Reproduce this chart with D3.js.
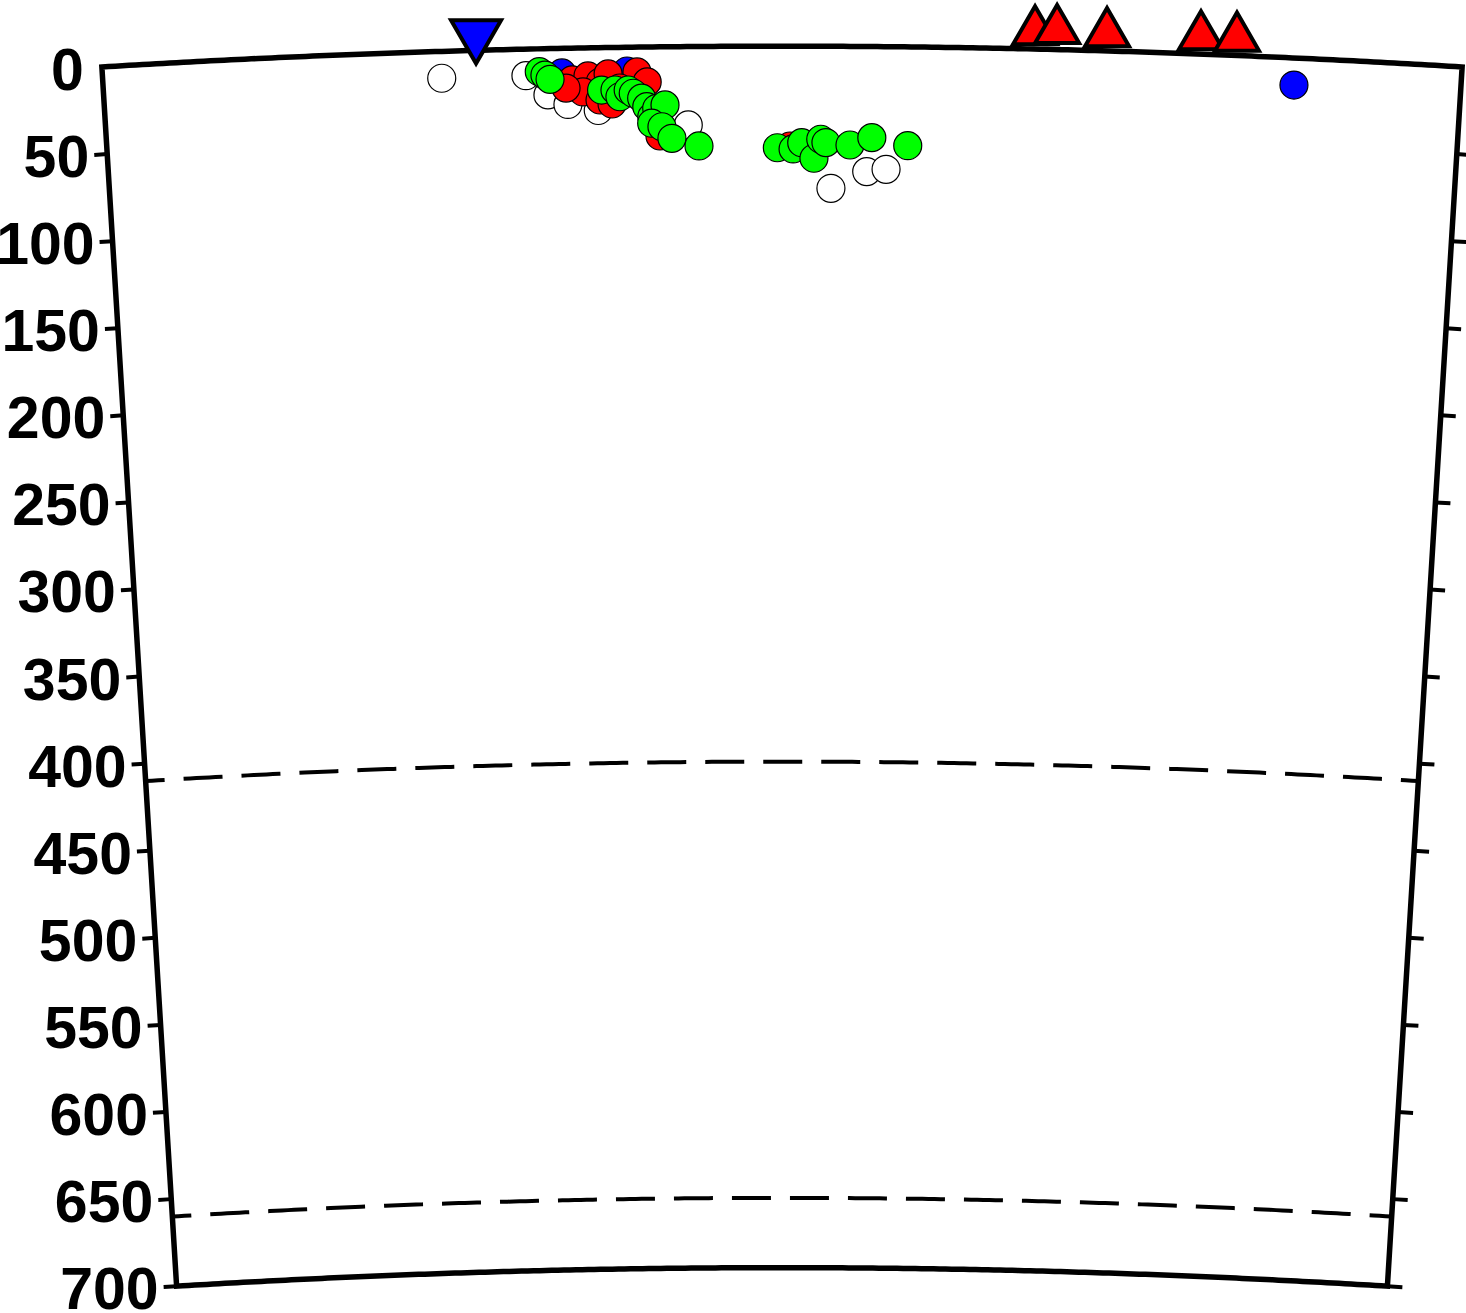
<!DOCTYPE html>
<html><head><meta charset="utf-8">
<script src="https://cdn.jsdelivr.net/npm/d3@7"></script>
<style>html,body{margin:0;padding:0;background:#fff}svg{display:block}</style>
</head><body>
<script>
// ---- data ----
const profileLength = 780;          // km along the section
const earthRadius = 6371;           // km
const maxDepth = 700;               // km
const depthLabels = [0,50,100,150,200,250,300,350,400,450,500,550,600,650,700];
const depthTicks = [50,100,150,200,250,300,350,400,450,500,550,600,650,700];
const discontinuities = [410, 660];

const whiteDist  = [194.5, 242.9, 255.3, 266.7, 284.1, 335.9, 418.4, 439.1, 450.3];
const whiteDepth = [15.4, 15.2, 26.5, 32.2, 36.0, 44.9, 81.4, 71.7, 70.3];

const blueDist  = [263.6, 301.0, 684.2];
const blueDepth = [14.1, 13.6, 15.5];

const redDist  = [269.4, 278.5, 285.5, 290.1, 275.5, 285.2, 292.1, 306.7, 312.5, 317.9, 319.5, 394.6, 296.7, 265.8];
const redDepth = [18.2, 16.1, 19.7, 15.1, 25.2, 30.0, 32.4, 14.2, 20.0, 41.3, 51.1, 57.2, 23.3, 22.8];

const greenDist  = [250.6, 253.8, 256.7, 286.2, 293.9, 296.7, 301.5, 304.4, 309.2, 312.1, 314.9, 317.8, 322.6, 314.8, 320.7, 326.4, 342.0,
                    387.3, 396.4, 401.4, 408.5, 412.4, 415.4, 429.3, 441.9, 462.7];
const greenDepth = [13.1, 15.1, 17.6, 24.3, 24.4, 28.3, 24.5, 26.4, 29.3, 34.2, 40.0, 35.2, 33.3, 43.7, 45.8, 52.5, 57.0,
                    58.2, 58.9, 55.3, 64.2, 53.3, 55.2, 56.5, 52.2, 56.6];

const redStationDist  = [534.8, 547.4, 576.0, 629.8, 650.4];
const redStationDepth = [-10, -11, -10, -10, -10];
const blueStationDist  = [214.9];
const blueStationDepth = [-9];

// ---- geometry ----
const W = 1466, H = 1313;
const pxPerKm = 1.745;
const rTop = earthRadius * pxPerKm;
const halfAngle = profileLength / earthRadius / 2;
const cx = 782;
const cy = 67 + rTop * Math.cos(halfAngle);

const angle = d3.scaleLinear().domain([0, profileLength]).range([-halfAngle, halfAngle]);
const radius = d3.scaleLinear().domain([0, maxDepth]).range([rTop, rTop - maxDepth * pxPerKm]);

function pos(d, z) {
  const a = angle(d), r = radius(z);
  return [r * Math.sin(a), -r * Math.cos(a)];
}

const svg = d3.select("body").append("svg").attr("width", W).attr("height", H);
svg.append("rect").attr("width", W).attr("height", H).attr("fill", "#fff");
const g = svg.append("g").attr("transform", `translate(${cx},${cy})`);

const radial = d3.lineRadial().angle(p => angle(p[0])).radius(p => radius(p[1]));
const samples = d3.range(0, profileLength + 0.001, profileLength / 200);

// discontinuity dashed lines
discontinuities.forEach(z => {
  g.append("path")
    .attr("d", radial(samples.map(d => [d, z])))
    .attr("fill", "none").attr("stroke", "#000").attr("stroke-width", 4)
    .attr("stroke-dasharray", "39 19").attr("stroke-dashoffset", 20);
});

// frame
const framePts = []
  .concat(samples.map(d => [d, 0]))
  .concat([[profileLength, maxDepth]])
  .concat(samples.slice().reverse().map(d => [d, maxDepth]));
g.append("path")
  .attr("d", radial.curve(d3.curveLinearClosed)(framePts))
  .attr("fill", "none").attr("stroke", "#000").attr("stroke-width", 5.5)
  .attr("stroke-linejoin", "miter");
radial.curve(d3.curveLinear);

// ticks
const tickLen = 13;
depthTicks.forEach(z => {
  [0, profileLength].forEach((d, i) => {
    const a = angle(d);
    const [x, y] = pos(d, z);
    const s = i === 0 ? -1 : 1;
    const ox = s * Math.cos(a), oy = s * Math.sin(a);
    g.append("line")
      .attr("x1", x).attr("y1", y)
      .attr("x2", x + ox * (tickLen + (i ? 2 : 0))).attr("y2", y + oy * (tickLen + (i ? 2 : 0)))
      .attr("stroke", "#000").attr("stroke-width", 4);
  });
});

// labels (left side)
const fontSize = 59;
depthLabels.forEach(z => {
  const a = angle(0);
  const [x, y] = pos(0, z);
  const ox = -Math.cos(a), oy = -Math.sin(a);
  g.append("text")
    .attr("x", x + ox * 18).attr("y", y + oy * 18 + 0.37 * fontSize)
    .attr("text-anchor", "end")
    .attr("font-family", "'Liberation Sans', Arial, Helvetica, sans-serif")
    .attr("font-weight", "bold").attr("font-size", fontSize)
    .attr("fill", "#000")
    .text(z);
});

// events
function drawEvents(dists, depths, color) {
  g.append("g").selectAll("circle")
    .data(d3.range(dists.length))
    .join("circle")
    .attr("cx", i => pos(dists[i], depths[i])[0])
    .attr("cy", i => pos(dists[i], depths[i])[1])
    .attr("r", 14)
    .attr("fill", color).attr("stroke", "#000").attr("stroke-width", 1.2);
}
drawEvents(whiteDist, whiteDepth, "#ffffff");
drawEvents(blueDist, blueDepth, "#0000ff");
drawEvents(redDist, redDepth, "#ff0000");
drawEvents(greenDist, greenDepth, "#00ff00");

// stations
function drawStations(dists, depths, color, side, rot) {
  const area = Math.sqrt(3) / 4 * side * side;
  g.append("g").selectAll("path")
    .data(d3.range(dists.length))
    .join("path")
    .attr("d", d3.symbol().type(d3.symbolTriangle).size(area))
    .attr("transform", i => {
      const [x, y] = pos(dists[i], depths[i]);
      return `translate(${x},${y}) rotate(${rot})`;
    })
    .attr("fill", color).attr("stroke", "#000").attr("stroke-width", 4)
    .attr("stroke-linejoin", "miter");
}
drawStations(redStationDist, redStationDepth, "#ff0000", 44, 0);
drawStations(blueStationDist, blueStationDepth, "#0000ff", 50, 180);
</script>
</body></html>
